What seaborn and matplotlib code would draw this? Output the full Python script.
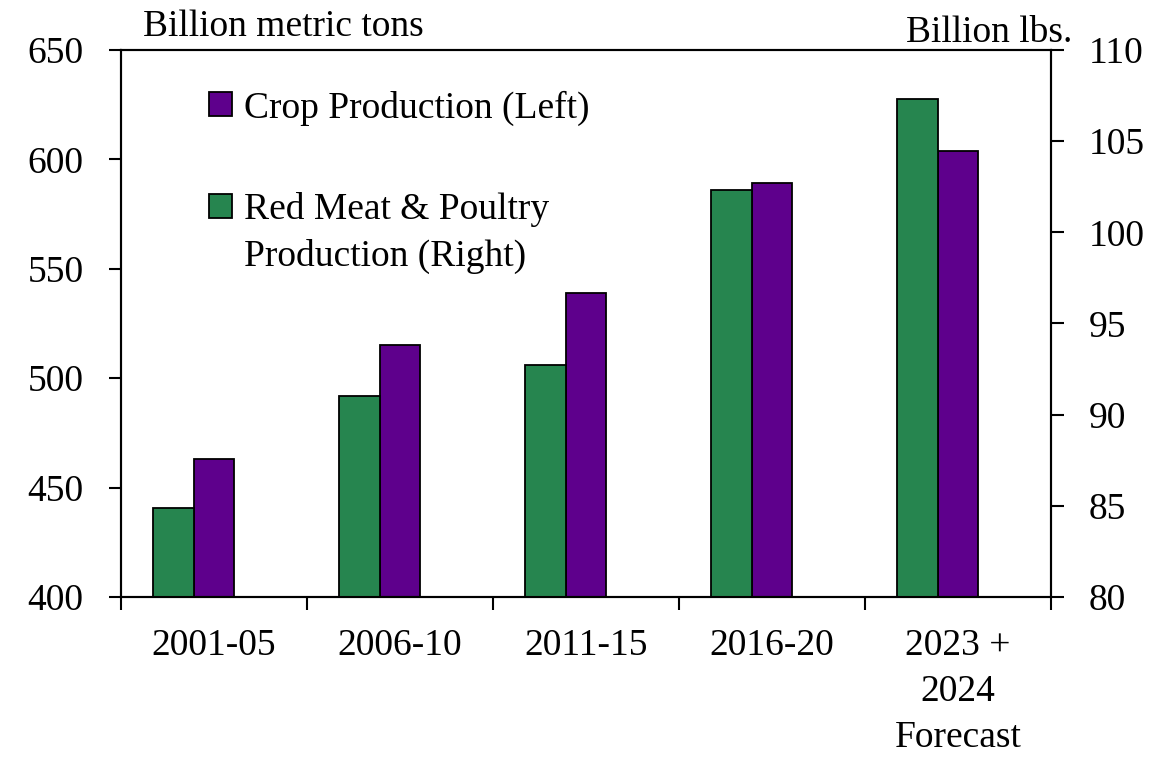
import numpy as np
import pandas as pd
import seaborn as sns
import matplotlib.pyplot as plt
from matplotlib.patches import Patch

periods = ["2001-05", "2006-10", "2011-15", "2016-20", "2023 +\n2024\nForecast"]
crop_production = [463, 515, 539, 589, 604]          # billion metric tons (left)
meat_production = [84.9, 91.0, 92.7, 102.3, 107.3]   # billion lbs. (right)

sns.set_theme(style="ticks")
plt.rcParams["font.family"] = ["Liberation Serif", "DejaVu Serif"]
plt.rcParams["font.size"] = 27
plt.rcParams["text.color"] = "black"
plt.rcParams["xtick.color"] = "black"
plt.rcParams["ytick.color"] = "black"

purple = "#5E008C"
green = "#26854F"
bar_w = 0.22
fs = 27

fig = plt.figure(figsize=(11.75, 7.57), dpi=100)
ax = fig.add_axes([121 / 1175, 1 - 597 / 757, 930 / 1175, 547 / 757])

pos = np.arange(len(periods))
crop = pd.DataFrame({"pos": pos, "value": crop_production})
sns.barplot(crop, x="pos", y="value", ax=ax, native_scale=True, color=purple,
            width=bar_w, edgecolor="black", linewidth=1.3, saturation=1)

ax2 = ax.twinx()
meat = pd.DataFrame({"pos": pos - bar_w, "value": meat_production})
sns.barplot(meat, x="pos", y="value", ax=ax2, native_scale=True, color=green,
            width=bar_w, edgecolor="black", linewidth=1.3, saturation=1)

ax.set_xlim(-0.5, len(periods) - 0.5)
ax.set_ylim(400, 650)
ax2.set_ylim(80, 110)
ax.set_yticks(range(400, 651, 50))
ax2.set_yticks(range(80, 111, 5))
ax.set_xticks(pos, periods, linespacing=1.42)
ax.set_xticks(np.arange(-0.5, len(periods)), minor=True)
for a in (ax, ax2):
    a.set_xlabel("")
    a.set_ylabel("")
    for s in a.spines.values():
        s.set_visible(True)
        s.set_color("black")
        s.set_linewidth(1.5)
    a.tick_params(axis="y", length=9, width=1.5, pad=18, labelsize=fs)

ax.tick_params(axis="x", which="major", length=0, pad=23, labelsize=fs)
ax.tick_params(axis="x", which="minor", length=9, width=1.5, direction="out")

fig.text(143 / 1175, 1 - 27 / 757, "Billion metric tons", ha="left", va="center")
fig.text(1072 / 1175, 1 - 33 / 757, "Billion lbs.", ha="right", va="center")

# legend: two blocks to keep the marker on the first line of the wrapped label
leg1 = ax2.legend([Patch(facecolor=purple, edgecolor="black", linewidth=1.3)],
                  ["Crop Production (Left)"],
                  loc="center left", bbox_to_anchor=(209 / 1175, 1 - 108 / 757),
                  bbox_transform=fig.transFigure, frameon=False, borderpad=0,
                  borderaxespad=0, handlelength=0.62, handleheight=0.62,
                  handletextpad=0.3, fontsize=fs)
ax2.add_artist(leg1)
ax2.legend([Patch(facecolor=green, edgecolor="black", linewidth=1.3),
            Patch(alpha=0)],
           ["Red Meat & Poultry", "Production (Right)"],
           loc="center left", bbox_to_anchor=(209 / 1175, 1 - 233 / 757),
           bbox_transform=fig.transFigure, frameon=False, borderpad=0,
           borderaxespad=0, handlelength=0.62, handleheight=0.62,
           handletextpad=0.3, labelspacing=0.3, fontsize=fs)

fig.savefig("out.png", dpi=100)
